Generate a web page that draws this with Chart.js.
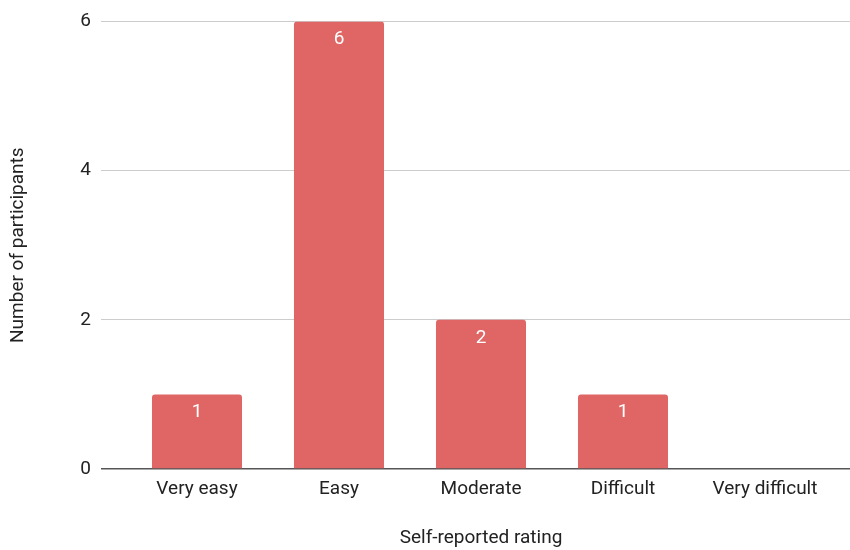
<!DOCTYPE html>
<html>
<head>
<meta charset="utf-8">
<script src="https://cdn.jsdelivr.net/npm/chart.js@4.4.1/dist/chart.umd.min.js"></script>
<style>
html,body{margin:0;padding:0;background:#fff;}
#wrap{width:850px;height:550px;}
</style>
</head>
<body>
<div id="wrap"><canvas id="c" width="850" height="550"></canvas></div>
<script>
const categories = ["Very easy", "Easy", "Moderate", "Difficult", "Very difficult"];
const participants = [1, 6, 2, 1, 0];
const yTicks = [0, 2, 4, 6];
const xTitle = "Self-reported rating";
const yTitle = "Number of participants";

const FONT = "Roboto, 'Noto Sans', sans-serif";
const FS = 19;
const gridColor = ctx => (ctx.tick && ctx.tick.value === 0) ? '#555555' : '#cccccc';
const gridWidth = ctx => (ctx.tick && ctx.tick.value === 0) ? 1.5 : 1;

const barLabels = {
  id: 'barLabels',
  afterDatasetsDraw(chart) {
    const ctx = chart.ctx;
    const meta = chart.getDatasetMeta(0);
    ctx.save();
    ctx.fillStyle = '#ffffff';
    ctx.font = FS + 'px ' + FONT;
    ctx.textAlign = 'center';
    ctx.textBaseline = 'middle';
    meta.data.forEach((bar, i) => {
      const v = chart.data.datasets[0].data[i];
      if (!v) return;
      ctx.fillText(String(v), bar.x, bar.y + 18);
    });
    ctx.restore();
  }
};

new Chart(document.getElementById('c'), {
  type: 'bar',
  data: {
    labels: categories,
    datasets: [{
      data: participants,
      backgroundColor: '#e06666',
      borderRadius: 3,
      borderSkipped: 'bottom',
      categoryPercentage: 1,
      barPercentage: 0.634
    }]
  },
  options: {
    responsive: false,
    animation: false,
    devicePixelRatio: 1,
    layout: { padding: { top: 19, left: 0, right: 0, bottom: 0 } },
    plugins: { legend: { display: false }, tooltip: { enabled: false } },
    scales: {
      x: {
        grid: { display: false, drawTicks: false },
        border: { display: false },
        ticks: { color: '#222222', font: { family: FONT, size: FS }, padding: 9, maxRotation: 0 },
        title: { display: true, text: xTitle, color: '#222222', font: { family: FONT, size: FS }, padding: { top: 2, bottom: 0 } },
        afterFit(s) { s.height = 81; }
      },
      y: {
        min: 0, max: 6,
        afterBuildTicks(s) { s.ticks = yTicks.map(v => ({ value: v })); },
        grid: { color: gridColor, lineWidth: gridWidth, drawTicks: true, tickLength: 25, tickColor: gridColor },
        border: { display: false },
        ticks: { color: '#222222', font: { family: FONT, size: FS }, padding: 10 },
        title: { display: true, text: yTitle, color: '#222222', font: { family: FONT, size: FS }, padding: { top: 7, bottom: 0 } },
        afterFit(s) { s.width = 126; }
      },
      y2: {
        position: 'right',
        min: 0, max: 6,
        afterBuildTicks(s) { s.ticks = yTicks.map(v => ({ value: v })); },
        grid: { drawOnChartArea: false, drawTicks: true, tickLength: 14, tickColor: gridColor, lineWidth: gridWidth },
        border: { display: false },
        ticks: { display: false },
        afterFit(s) { s.width = 14; }
      }
    }
  },
  plugins: [barLabels]
});
</script>
</body>
</html>
